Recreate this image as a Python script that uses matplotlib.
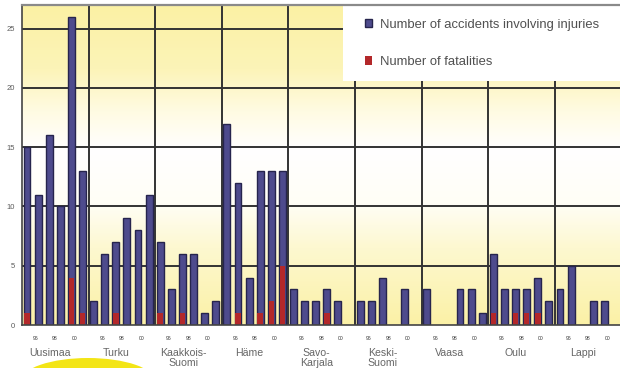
import numpy as np
import matplotlib
matplotlib.use("Agg")
import matplotlib.pyplot as plt
from matplotlib.patches import Rectangle, Ellipse
from matplotlib.colors import LinearSegmentedColormap

# Regions and accidents per region (six yearly slots each; 0 = no bar)
regions = ["Uusimaa", "Turku", "Kaakkois-\nSuomi", "Häme", "Savo-\nKarjala",
           "Keski-\nSuomi", "Vaasa", "Oulu", "Lappi"]
year_labels = ["96", "98", "00"]

injuries_uusimaa = [15, 11, 16, 10, 26, 13]
injuries_turku = [2, 6, 7, 9, 8, 11]
injuries_kaakkois = [7, 3, 6, 6, 1, 2]
injuries_hame = [17, 12, 4, 13, 13, 13]
injuries_savo = [3, 2, 2, 3, 2, 0]
injuries_keski = [2, 2, 4, 0, 3, 0]
injuries_vaasa = [3, 0, 0, 3, 3, 1]
injuries_oulu = [6, 3, 3, 3, 4, 2]
injuries_lappi = [3, 5, 0, 2, 2, 0]

fatal_uusimaa = [1, 0, 0, 0, 4, 1]
fatal_turku = [0, 0, 1, 0, 0, 0]
fatal_kaakkois = [1, 0, 1, 0, 0, 0]
fatal_hame = [0, 1, 0, 1, 2, 5]
fatal_savo = [0, 0, 0, 1, 0, 0]
fatal_keski = [0, 0, 0, 0, 0, 0]
fatal_vaasa = [0, 0, 0, 0, 0, 0]
fatal_oulu = [1, 0, 1, 1, 1, 0]
fatal_lappi = [0, 0, 0, 0, 0, 0]

injuries = [injuries_uusimaa, injuries_turku, injuries_kaakkois, injuries_hame,
            injuries_savo, injuries_keski, injuries_vaasa, injuries_oulu,
            injuries_lappi]
fatalities = [fatal_uusimaa, fatal_turku, fatal_kaakkois, fatal_hame,
              fatal_savo, fatal_keski, fatal_vaasa, fatal_oulu, fatal_lappi]

BLUE = "#4e4b8d"
BLUE_EDGE = "#26244d"
RED = "#b3282a"
GRID = "#333333"
TEXT = "#5a5a5a"

W, H = 620, 368
fig = plt.figure(figsize=(W / 100, H / 100), dpi=100)
fig.patch.set_facecolor("white")

# axes placed in pixel terms: left 22, bottom at y=325 (from top), top at y=5
ax = fig.add_axes([22 / W, 43 / H, 599.6 / W, 320 / H])
n_slots = 6
n_groups = len(regions)
ax.set_xlim(0, n_slots * n_groups)
ax.set_ylim(0, 27)

# pale yellow / white vertical gradient background
stops = [(0.0, "#fbf1a4"), (0.2, "#fcf4b8"), (0.33, "#fffbe2"),
         (0.45, "#ffffff"), (0.62, "#fffef6"), (0.76, "#fdf8d0"),
         (1.0, "#fbf1a6")]
cmap = LinearSegmentedColormap.from_list("bg", stops)
grad = np.linspace(0, 1, 256)[:, None]
ax.imshow(grad, aspect="auto", cmap=cmap, extent=[0, 54, 0, 27],
          origin="upper", zorder=0)

# grid
for yv in range(5, 26, 5):
    ax.axhline(yv, color=GRID, lw=1.4, zorder=1)
for g in range(1, n_groups):
    ax.axvline(g * n_slots, color=GRID, lw=1.4, zorder=1)

# bars
bar_w = 0.62
offset = 0.45
inj_handle = None
fat_handle = None
for g in range(n_groups):
    xs = [g * n_slots + offset + k for k in range(n_slots)]
    xi = [x for x, v in zip(xs, injuries[g]) if v > 0]
    vi = [v for v in injuries[g] if v > 0]
    b = ax.bar(xi, vi, width=bar_w, color=BLUE, edgecolor=BLUE_EDGE,
               linewidth=1.0, zorder=3)
    if inj_handle is None:
        inj_handle = b
    xf = [x for x, v in zip(xs, fatalities[g]) if v > 0]
    vf = [v for v in fatalities[g] if v > 0]
    if vf:
        f = ax.bar(xf, vf, width=bar_w - 0.12, color=RED, edgecolor="none",
                   zorder=4)
        if fat_handle is None:
            fat_handle = f

# legend panel
ax.add_patch(Rectangle((28.9, 20.6), 26, 6.4, facecolor="white",
                       edgecolor="none", zorder=5))
leg = ax.legend([inj_handle, fat_handle],
                ["Number of accidents involving injuries", "Number of fatalities"],
                loc="upper left", bbox_to_anchor=(0.555, 0.99),
                frameon=False, prop={"family": "Liberation Sans", "size": 9.4},
                handlelength=0.55, handleheight=0.6, handletextpad=0.6,
                labelspacing=1.95, borderpad=0.8, borderaxespad=0)
leg.set_zorder(6)
for t in leg.get_texts():
    t.set_color("#505050")

# spines and ticks
for s in ["left", "bottom"]:
    ax.spines[s].set_color("#444444")
    ax.spines[s].set_linewidth(1.2)
ax.spines["top"].set_color("#8a8a8a")
ax.spines["top"].set_linewidth(1.6)
ax.spines["right"].set_visible(False)
for s in ax.spines.values():
    s.set_zorder(7)

ax.set_yticks(range(0, 26, 5))
ax.set_yticklabels([str(v) for v in range(0, 26, 5)],
                   fontsize=5.5, color=TEXT, family="Liberation Sans")
ax.tick_params(axis="y", length=0, pad=5)

label_pos = [1.22, 2.97, 4.73]
xt, xl = [], []
for g in range(n_groups):
    for p, lab in zip(label_pos, year_labels):
        xt.append(g * n_slots + p)
        xl.append(lab)
ax.set_xticks(xt)
ax.set_xticklabels(xl, fontsize=3.6, color="#333333", family="Liberation Sans")
ax.tick_params(axis="x", length=0, pad=8)

# yellow highlight under the first region name
fig.add_artist(Ellipse((88 / W, (H - 381) / H), 134 / W, 46 / H,
                       transform=fig.transFigure, facecolor="#f3e516",
                       edgecolor="none", zorder=0))

# region names
for g, name in enumerate(regions):
    ax.text(g * n_slots + 2.5, -0.072, name, transform=ax.get_xaxis_transform(),
            ha="center", va="top", fontsize=7.6, color="#666666",
            family="Liberation Sans", linespacing=0.95, clip_on=False, zorder=8)

fig.savefig("out.png", dpi=100, facecolor="white")
